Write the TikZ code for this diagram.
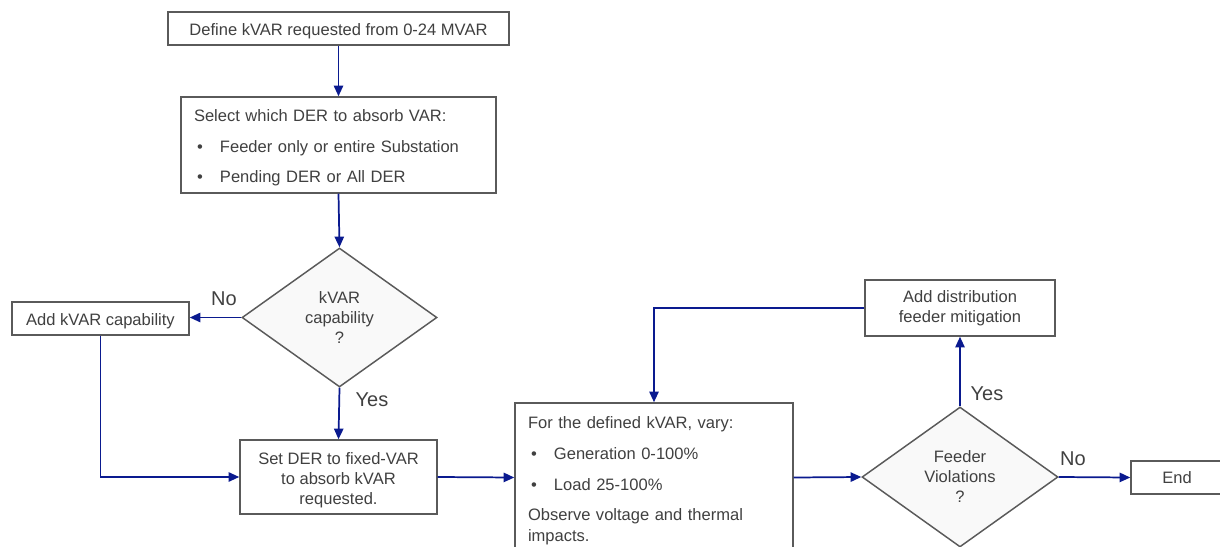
\documentclass[tikz,border=0pt]{standalone}
\usepackage{fontspec}
\setmainfont{Liberation Sans}
\usetikzlibrary{shapes.geometric,arrows.meta}
\definecolor{txt}{HTML}{404040}
\definecolor{bord}{HTML}{5A5A5A}
\definecolor{navy}{HTML}{0A1A8F}
\definecolor{dfill}{HTML}{F9F9F9}
\tikzset{
  box/.style 2 args={draw=bord, line width=1.1pt, fill=white, text=txt, inner sep=0pt,
    minimum width=#1*0.75pt, minimum height=#2*0.75pt, align=center,
    font=\fontsize{12.4}{14.8}\selectfont},
  dec/.style 2 args={diamond, draw=bord, line width=1.1pt, fill=dfill, text=txt, inner sep=0pt,
    minimum width=#1*0.75pt, minimum height=#2*0.75pt, align=center,
    font=\fontsize{12.4}{15}\selectfont},
  conn/.style={draw=navy, line width=1.3pt, -{Triangle[length=8pt,width=7pt]}},
  lab/.style={text=txt, font=\fontsize{15}{18}\selectfont, inner sep=0pt}
}
\newcommand{\bul}{\makebox[19.5pt][l]{\hspace{2.4pt}•}}
\newcommand{\fst}{\rule{0pt}{13.6pt}}
\begin{document}
\begin{tikzpicture}[x=0.75pt,y=-0.75pt]
\useasboundingbox (0,0) rectangle (1220,546);
\clip (0,0) rectangle (1220,546);
\node[box={341}{33}] (b1) at (338.5,28.5) {\fst Define kVAR requested from 0-24 MVAR};
\node[box={315}{96}, align=left, text width=289*0.75pt, inner xsep=13*0.75pt,
  font=\fontsize{12.4}{22.9}\selectfont] (b2) at (338.5,145)
  {\fst Select which DER to absorb VAR:\\ \bul Feeder only or entire Substation\\ \bul Pending DER or All DER};
\node[dec={195}{139}] (d1) at (339.5,317.5) {kVAR\\ capability\\ ?};
\node[box={177}{33}] (b3) at (100.5,318.5) {\fst Add kVAR capability};
\node[box={197}{74}] (b4) at (338.5,477) {\fst Set DER to fixed-VAR\\ to absorb kVAR\\ requested.};
\node[box={278}{149}, align=left, text width=252*0.75pt, inner xsep=13*0.75pt,
  font=\fontsize{12.4}{23.2}\selectfont] (b5) at (654,477.5)
  {\fst For the defined kVAR, vary:\\ \bul Generation 0-100\%\\ \bul Load 25-100\%\\ Observe voltage and thermal\\[-7.8pt] impacts.};
\node[dec={196}{140}] (d2) at (960,477) {Feeder\\ Violations\\ ?};
\node[box={190}{56}] (b6) at (960,308) {Add distribution\\ feeder mitigation};
\node[box={92}{33}] (e) at (1177,477.5) {End};
\draw[conn] (b1.south) -- (b2.north);
\draw[conn] (b2.south) -- (d1.north);
\draw[conn] (d1.west) -- (d1.west -| b3.east);
\draw[conn] (b3.south) |- (b4.west);
\draw[conn] (d1.south) -- (b4.north);
\draw[conn] (b4.east) -- (b5.west);
\draw[conn] (b5.east) -- (d2.west);
\draw[conn] (d2.north) -- (b6.south);
\draw[conn] (b6.west) -| (b5.north);
\draw[conn] (d2.east) -- (e.west);
\node[lab] (l1) at (224,299) {No};
\node[lab] (l2) at (372,400) {Yes};
\node[lab] (l3) at (987,394) {Yes};
\node[lab] (l4) at (1073,459) {No};
\end{tikzpicture}
\end{document}
